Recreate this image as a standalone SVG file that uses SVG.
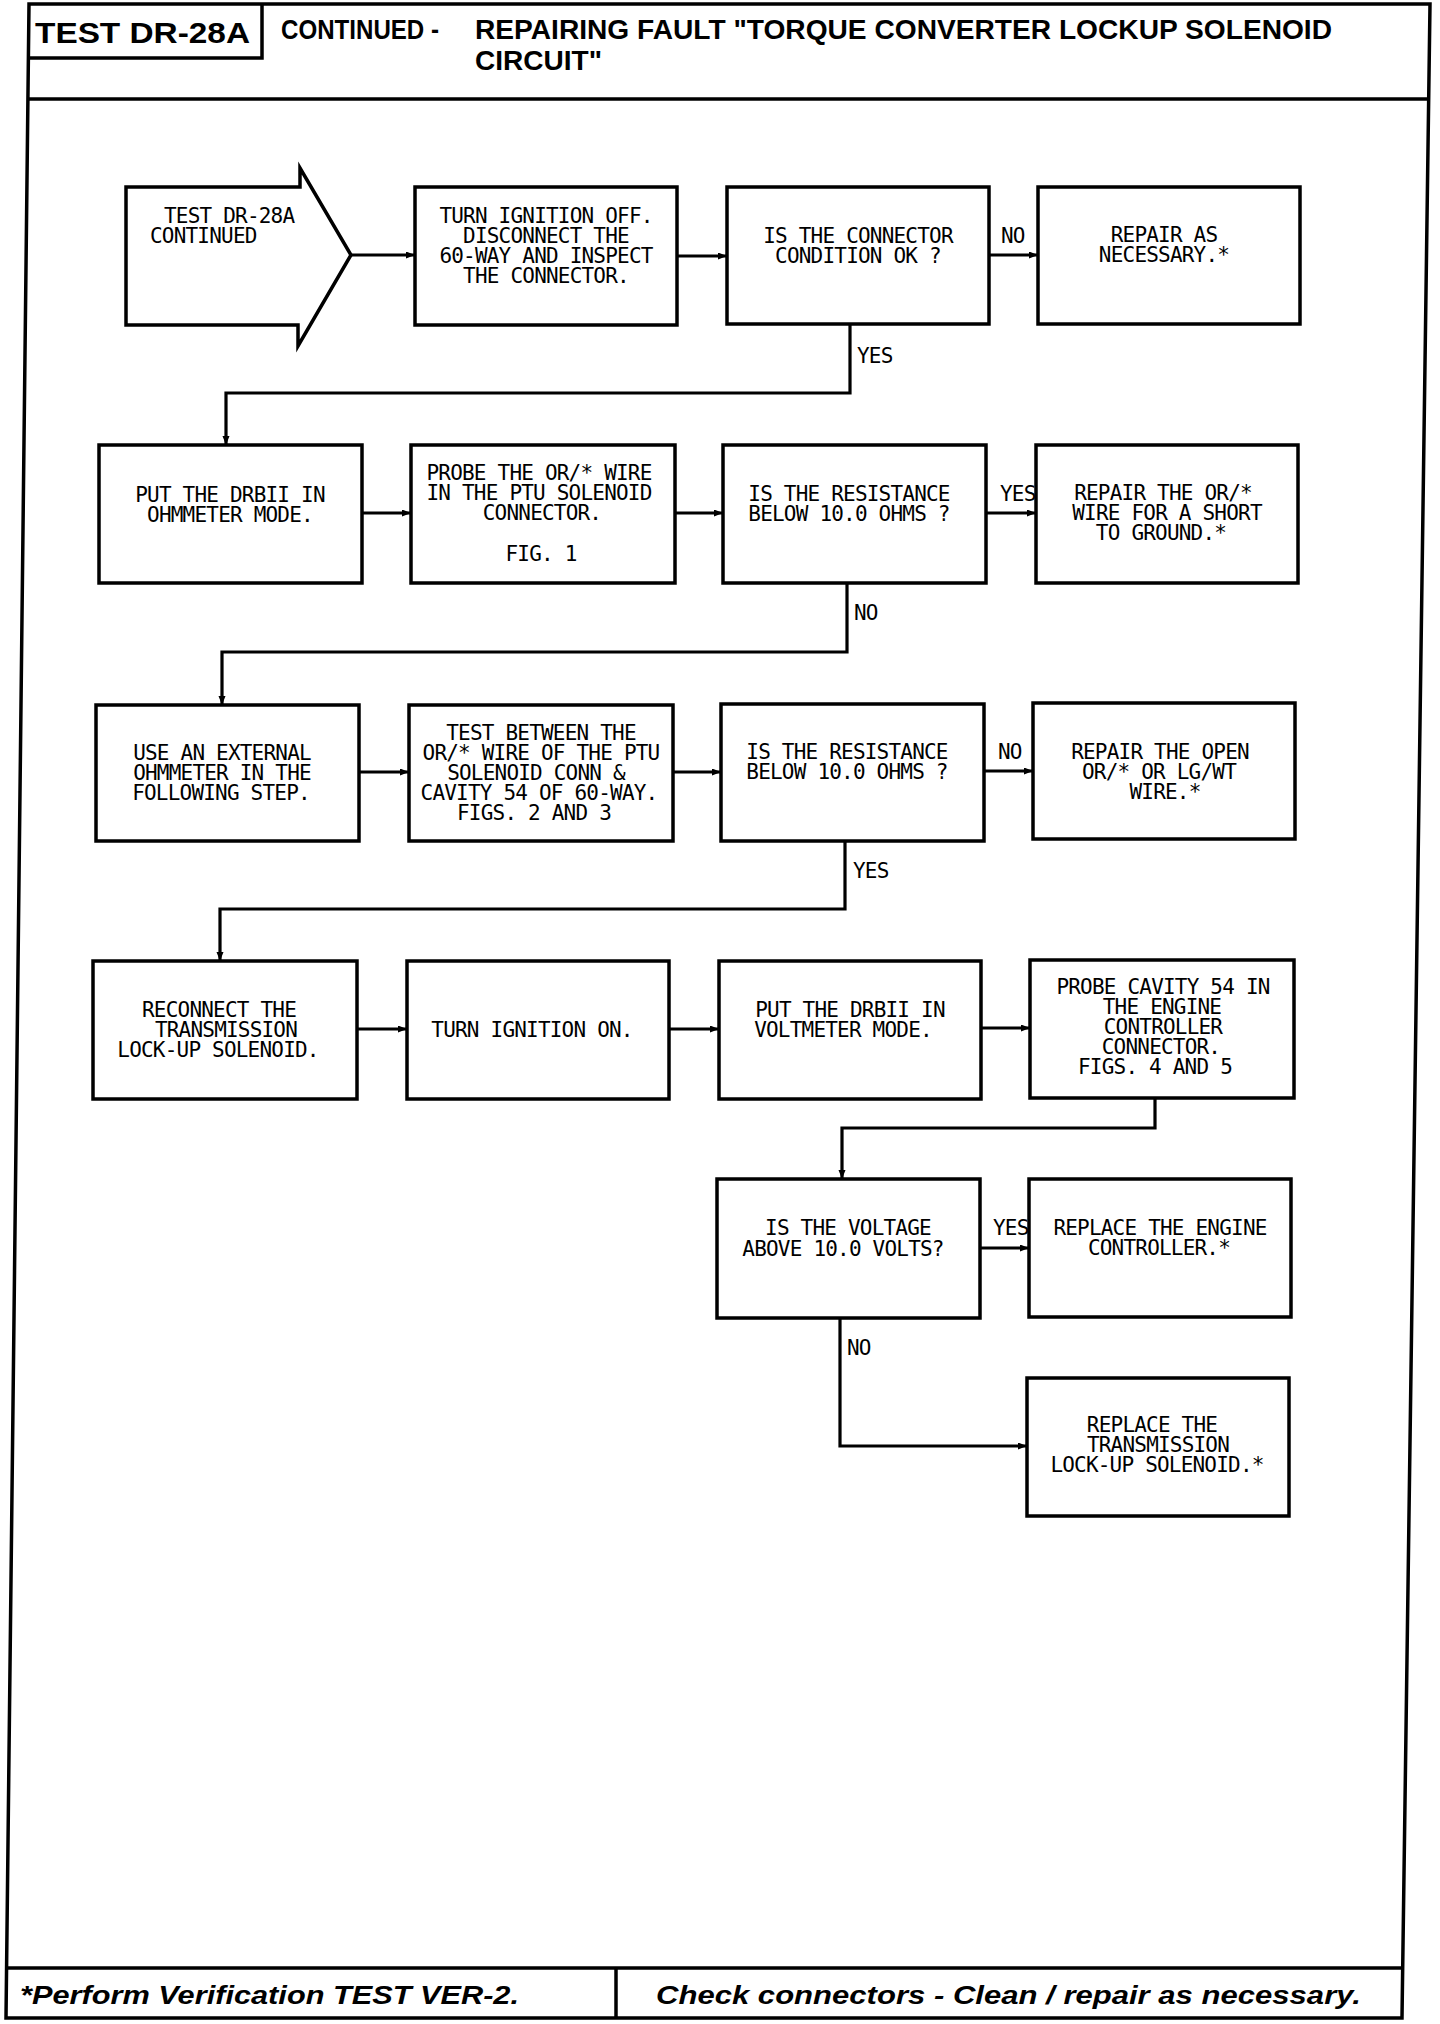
<svg xmlns="http://www.w3.org/2000/svg" width="1440" height="2024" viewBox="0 0 1440 2024">
<style>
.frame{fill:none;stroke:#000;stroke-width:3.5}
.box{fill:#fff;stroke:#000;stroke-width:3.5}
.c{fill:none;stroke:#000;stroke-width:3.2;marker-end:url(#ah)}
.t{font-family:"DejaVu Sans Mono","Liberation Mono",monospace;font-size:21px;letter-spacing:-0.8px;text-anchor:middle;fill:#000}
.l{font-family:"DejaVu Sans Mono","Liberation Mono",monospace;font-size:21px;letter-spacing:-0.8px;fill:#000}
.h{font-family:"Liberation Sans",Arial,sans-serif;font-weight:bold;fill:#000}
.f{font-family:"Liberation Sans",Arial,sans-serif;font-weight:bold;font-style:italic;font-size:25px;fill:#000}
</style>
<defs>
<marker id="ah" markerUnits="userSpaceOnUse" markerWidth="10" markerHeight="8" refX="9" refY="3.5" orient="auto">
<path d="M0,0 L9,3.5 L0,7 Z" fill="#000"/>
</marker>
</defs>
<rect width="1440" height="2024" fill="#fff"/>
<g id="frame">
<path class="frame" d="M29,4 L1430,4 L1402,2018 L6,2018 Z"/>
<path class="frame" d="M28,99 L1429,99"/>
<path class="frame" d="M7,1968 L1403,1968"/>
<path class="frame" d="M616,1968 L616,2018"/>
<path class="frame" d="M262,4 L262,58 L28,58"/>
<text class="h" x="35" y="43" font-size="30" textLength="215" lengthAdjust="spacingAndGlyphs">TEST DR-28A</text>
<text class="h" x="281" y="39" font-size="27" textLength="158" lengthAdjust="spacingAndGlyphs">CONTINUED -</text>
<text class="h" x="475" y="39" font-size="27" textLength="857" lengthAdjust="spacingAndGlyphs">REPAIRING FAULT "TORQUE CONVERTER LOCKUP SOLENOID</text>
<text class="h" x="475" y="70" font-size="27" textLength="127" lengthAdjust="spacingAndGlyphs">CIRCUIT"</text>
<text class="f" x="20" y="2004" textLength="499" lengthAdjust="spacingAndGlyphs">*Perform Verification TEST VER-2.</text>
<text class="f" x="656" y="2004" textLength="705" lengthAdjust="spacingAndGlyphs">Check connectors - Clean / repair as necessary.</text>
</g>
<g id="connectors">
<path class="c" d="M351,255 L415,255"/>
<path class="c" d="M677,256 L727,256"/>
<path class="c" d="M989,255 L1038,255"/>
<path class="c" d="M850,324 L850,393 L226,393 L226,445"/>
<path class="c" d="M362,513 L411,513"/>
<path class="c" d="M675,513 L723,513"/>
<path class="c" d="M986,513 L1036,513"/>
<path class="c" d="M847,583 L847,652 L222,652 L222,705"/>
<path class="c" d="M359,772 L409,772"/>
<path class="c" d="M673,772 L721,772"/>
<path class="c" d="M984,771 L1033,771"/>
<path class="c" d="M845,841 L845,909 L220,909 L220,961"/>
<path class="c" d="M357,1029 L407,1029"/>
<path class="c" d="M669,1029 L719,1029"/>
<path class="c" d="M981,1028 L1030,1028"/>
<path class="c" d="M1155,1098 L1155,1128 L842,1128 L842,1179"/>
<path class="c" d="M980,1248 L1029,1248"/>
<path class="c" d="M840,1318 L840,1446 L1027,1446"/>
<text class="l" x="1001" y="243">NO</text>
<text class="l" x="857" y="363">YES</text>
<text class="l" x="1000" y="501">YES</text>
<text class="l" x="854" y="620">NO</text>
<text class="l" x="998" y="759">NO</text>
<text class="l" x="853" y="878">YES</text>
<text class="l" x="993" y="1235">YES</text>
<text class="l" x="847" y="1355">NO</text>
</g>
<g id="start">
<path class="box" d="M126,187 L300,187 L300,168 L351,255 L298,346 L298,325 L126,325 Z"/>
<text class="l" x="164" y="223">TEST DR-28A</text>
<text class="l" x="150" y="243">CONTINUED</text>
</g>
<g id="turn-ignition-off">
<rect class="box" x="415" y="187" width="262" height="138"/>
<text class="t" x="546" y="223">TURN IGNITION OFF.</text>
<text class="t" x="546" y="243">DISCONNECT THE</text>
<text class="t" x="546" y="263">60-WAY AND INSPECT</text>
<text class="t" x="546" y="283">THE CONNECTOR.</text>
</g>
<g id="connector-ok">
<rect class="box" x="727" y="187" width="262" height="137"/>
<text class="t" x="858" y="243">IS THE CONNECTOR</text>
<text class="t" x="858" y="263">CONDITION OK ?</text>
</g>
<g id="repair-as-necessary">
<rect class="box" x="1038" y="187" width="262" height="137"/>
<text class="t" x="1164" y="242">REPAIR AS</text>
<text class="t" x="1164" y="262">NECESSARY.*</text>
</g>
<g id="ohmmeter-mode">
<rect class="box" x="99" y="445" width="263" height="138"/>
<text class="t" x="230" y="502">PUT THE DRBII IN</text>
<text class="t" x="230" y="522">OHMMETER MODE.</text>
</g>
<g id="probe-or-wire">
<rect class="box" x="411" y="445" width="264" height="138"/>
<text class="t" x="539" y="480">PROBE THE OR/* WIRE</text>
<text class="t" x="539" y="500">IN THE PTU SOLENOID</text>
<text class="t" x="542" y="520">CONNECTOR.</text>
<text class="t" x="541" y="561">FIG. 1</text>
</g>
<g id="resistance-1">
<rect class="box" x="723" y="445" width="263" height="138"/>
<text class="t" x="849" y="501">IS THE RESISTANCE</text>
<text class="t" x="849" y="521">BELOW 10.0 OHMS ?</text>
</g>
<g id="repair-short">
<rect class="box" x="1036" y="445" width="262" height="138"/>
<text class="t" x="1163" y="500">REPAIR THE OR/*</text>
<text class="t" x="1167" y="520">WIRE FOR A SHORT</text>
<text class="t" x="1161" y="540">TO GROUND.*</text>
</g>
<g id="external-ohmmeter">
<rect class="box" x="96" y="705" width="263" height="136"/>
<text class="t" x="222" y="760">USE AN EXTERNAL</text>
<text class="t" x="222" y="780">OHMMETER IN THE</text>
<text class="t" x="221" y="800">FOLLOWING STEP.</text>
</g>
<g id="test-between">
<rect class="box" x="409" y="705" width="264" height="136"/>
<text class="t" x="541" y="740">TEST BETWEEN THE</text>
<text class="t" x="541" y="760">OR/* WIRE OF THE PTU</text>
<text class="t" x="536" y="780">SOLENOID CONN &amp;</text>
<text class="t" x="539" y="800">CAVITY 54 OF 60-WAY.</text>
<text class="t" x="534" y="820">FIGS. 2 AND 3</text>
</g>
<g id="resistance-2">
<rect class="box" x="721" y="704" width="263" height="137"/>
<text class="t" x="847" y="759">IS THE RESISTANCE</text>
<text class="t" x="847" y="779">BELOW 10.0 OHMS ?</text>
</g>
<g id="repair-open">
<rect class="box" x="1033" y="703" width="262" height="136"/>
<text class="t" x="1160" y="759">REPAIR THE OPEN</text>
<text class="t" x="1159" y="779">OR/* OR LG/WT</text>
<text class="t" x="1165" y="799">WIRE.*</text>
</g>
<g id="reconnect">
<rect class="box" x="93" y="961" width="264" height="138"/>
<text class="t" x="219" y="1017">RECONNECT THE</text>
<text class="t" x="226" y="1037">TRANSMISSION</text>
<text class="t" x="218" y="1057">LOCK-UP SOLENOID.</text>
</g>
<g id="ignition-on">
<rect class="box" x="407" y="961" width="262" height="138"/>
<text class="t" x="532" y="1037">TURN IGNITION ON.</text>
</g>
<g id="voltmeter-mode">
<rect class="box" x="719" y="961" width="262" height="138"/>
<text class="t" x="850" y="1017">PUT THE DRBII IN</text>
<text class="t" x="843" y="1037">VOLTMETER MODE.</text>
</g>
<g id="probe-cavity">
<rect class="box" x="1030" y="960" width="264" height="138"/>
<text class="t" x="1163" y="994">PROBE CAVITY 54 IN</text>
<text class="t" x="1162" y="1014">THE ENGINE</text>
<text class="t" x="1163" y="1034">CONTROLLER</text>
<text class="t" x="1161" y="1054">CONNECTOR.</text>
<text class="t" x="1155" y="1074">FIGS. 4 AND 5</text>
</g>
<g id="voltage">
<rect class="box" x="717" y="1179" width="263" height="139"/>
<text class="t" x="848" y="1235">IS THE VOLTAGE</text>
<text class="t" x="843" y="1256">ABOVE 10.0 VOLTS?</text>
</g>
<g id="replace-controller">
<rect class="box" x="1029" y="1179" width="262" height="138"/>
<text class="t" x="1160" y="1235">REPLACE THE ENGINE</text>
<text class="t" x="1159" y="1255">CONTROLLER.*</text>
</g>
<g id="replace-solenoid">
<rect class="box" x="1027" y="1378" width="262" height="138"/>
<text class="t" x="1152" y="1432">REPLACE THE</text>
<text class="t" x="1158" y="1452">TRANSMISSION</text>
<text class="t" x="1157" y="1472">LOCK-UP SOLENOID.*</text>
</g>
</svg>
